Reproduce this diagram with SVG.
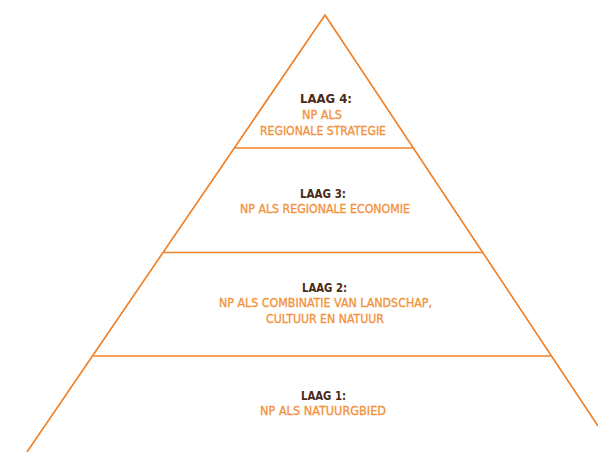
<svg xmlns="http://www.w3.org/2000/svg" width="598" height="452" viewBox="0 0 598 452">
<style>
.ln{stroke:#f0822a;stroke-width:1.7;fill:none;stroke-linecap:butt}
text{font-family:"Liberation Sans Narrow","DejaVu Sans Condensed","Liberation Sans",sans-serif;font-size:12.5px;text-anchor:middle}
.h{fill:#4a2a18;font-weight:bold}
.t{fill:#f2913a;stroke:#f2913a;stroke-width:0.3}
</style>
<rect width="598" height="452" fill="#ffffff"/>
<g id="pyramid">
<polyline class="ln" points="27,452 325,15 598,426"/>
<line class="ln" x1="235" y1="148" x2="413" y2="148"/>
<line class="ln" x1="164" y1="252.5" x2="483" y2="252.5"/>
<line class="ln" x1="93.5" y1="356" x2="552" y2="356"/>
</g>
<g id="laag4">
<text class="h" x="326" y="103" textLength="52" lengthAdjust="spacingAndGlyphs">LAAG 4:</text>
<text class="t" x="322" y="119" textLength="40" lengthAdjust="spacingAndGlyphs">NP ALS</text>
<text class="t" x="323" y="135" textLength="126" lengthAdjust="spacingAndGlyphs">REGIONALE STRATEGIE</text>
</g>
<g id="laag3">
<text class="h" x="323" y="198" textLength="46" lengthAdjust="spacingAndGlyphs">LAAG 3:</text>
<text class="t" x="325" y="213" textLength="170" lengthAdjust="spacingAndGlyphs">NP ALS REGIONALE ECONOMIE</text>
</g>
<g id="laag2">
<text class="h" x="324.5" y="292" textLength="45" lengthAdjust="spacingAndGlyphs">LAAG 2:</text>
<text class="t" x="325.5" y="307" textLength="213" lengthAdjust="spacingAndGlyphs">NP ALS COMBINATIE VAN LANDSCHAP,</text>
<text class="t" x="325" y="323" textLength="118" lengthAdjust="spacingAndGlyphs">CULTUUR EN NATUUR</text>
</g>
<g id="laag1">
<text class="h" x="323.5" y="400" textLength="45" lengthAdjust="spacingAndGlyphs">LAAG 1:</text>
<text class="t" x="323" y="415" textLength="126" lengthAdjust="spacingAndGlyphs">NP ALS NATUURGBIED</text>
</g>
</svg>
